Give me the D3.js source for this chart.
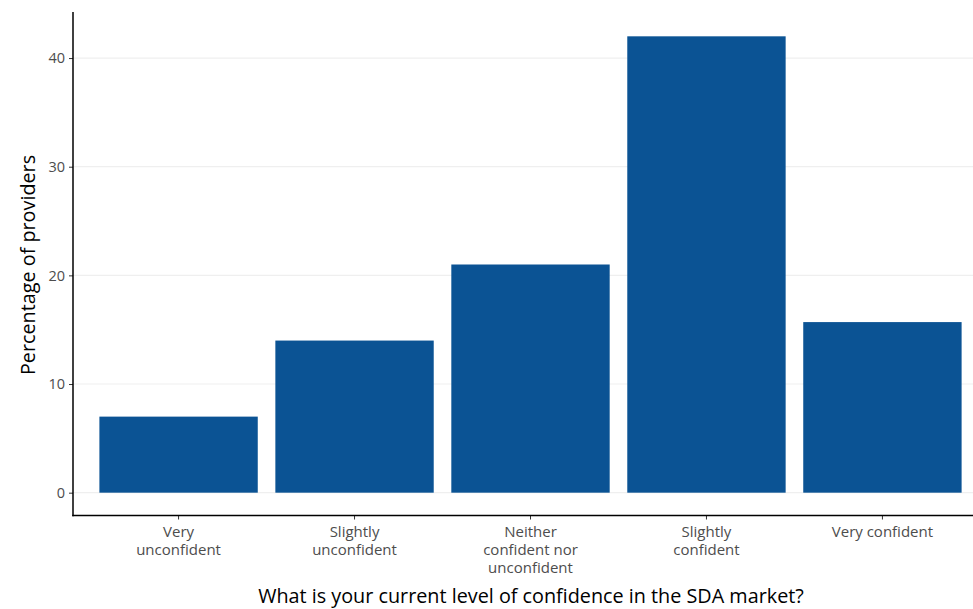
<!DOCTYPE html>
<html><head><meta charset="utf-8">
<script src="https://cdn.jsdelivr.net/npm/d3@7"></script>
<style>body{margin:0;background:#fff;} svg{display:block;}</style>
</head><body>
<svg id="c" width="973" height="609"></svg>
<script>
const categories = ["Very unconfident","Slightly unconfident","Neither confident nor unconfident","Slightly confident","Very confident"];
const labelLines = [["Very","unconfident"],["Slightly","unconfident"],["Neither","confident nor","unconfident"],["Slightly","confident"],["Very confident"]];
const values = [7.0, 14.0, 21.0, 42.0, 15.7];
const yTicks = [0,10,20,30,40];

(function(){
const svg = d3.select("#c");
const font = "'Open Sans', Lato, sans-serif";
const pLeft = 73, pRight = 988, pTop = 13.5, pBottom = 515.5;

const x = d3.scaleBand().domain(categories).range([pLeft, pRight]).paddingInner(0.1).paddingOuter(0.15);
const y = d3.scaleLinear().domain([-2.1, 44.1]).range([pBottom, pTop]);

// grid
svg.append("g").selectAll("line").data(yTicks).join("line")
  .attr("x1", pLeft).attr("x2", 973)
  .attr("y1", d=>y(d)).attr("y2", d=>y(d))
  .attr("stroke", "#efefef").attr("stroke-width", 1.2);

// bars
svg.append("g").selectAll("rect").data(values).join("rect")
  .attr("x", (d,i)=>x(categories[i]))
  .attr("width", x.bandwidth())
  .attr("y", d=>y(d))
  .attr("height", d=>y(0)-y(d))
  .attr("fill", "#0b5394");

// y axis
const ya = svg.append("g").attr("transform", `translate(${pLeft},0)`)
  .call(d3.axisLeft(y).tickValues(yTicks).tickSize(4).tickPadding(4));
ya.select(".domain").remove();
ya.selectAll(".tick line").attr("stroke", "#333").attr("stroke-width", 1);
ya.selectAll(".tick text").attr("fill", "#4d4d4d").style("font-family", font).style("font-size", "14.5px");
svg.append("line").attr("x1", pLeft).attr("x2", pLeft).attr("y1", 12).attr("y2", pBottom+0.75)
  .attr("stroke", "#000").attr("stroke-width", 1.5);

// x axis
const xa = svg.append("g").attr("transform", `translate(0,${pBottom})`)
  .call(d3.axisBottom(x).tickSize(4).tickFormat(""));
xa.select(".domain").remove();
xa.selectAll(".tick line").attr("stroke", "#333");
svg.append("line").attr("x1", pLeft-0.75).attr("x2", 973).attr("y1", pBottom).attr("y2", pBottom)
  .attr("stroke", "#000").attr("stroke-width", 1.5);

const lab = svg.append("g");
categories.forEach((c,i)=>{
  const cx = x(c)+x.bandwidth()/2;
  labelLines[i].forEach((l,j)=>{
    lab.append("text").attr("x", cx).attr("y", 537 + j*18)
      .attr("text-anchor","middle").attr("fill","#4d4d4d")
      .style("font-family", font).style("font-size","15px").text(l);
  });
});

// titles
svg.append("text").attr("x", 531).attr("y", 603).attr("text-anchor","middle")
  .style("font-family", font).style("font-size","19.8px").attr("fill","#000")
  .text("What is your current level of confidence in the SDA market?");
svg.append("text").attr("transform", `translate(35,265) rotate(-90)`)
  .attr("text-anchor","middle")
  .style("font-family", font).style("font-size","19.8px").attr("fill","#000")
  .text("Percentage of providers");
})();
</script>
</body></html>
